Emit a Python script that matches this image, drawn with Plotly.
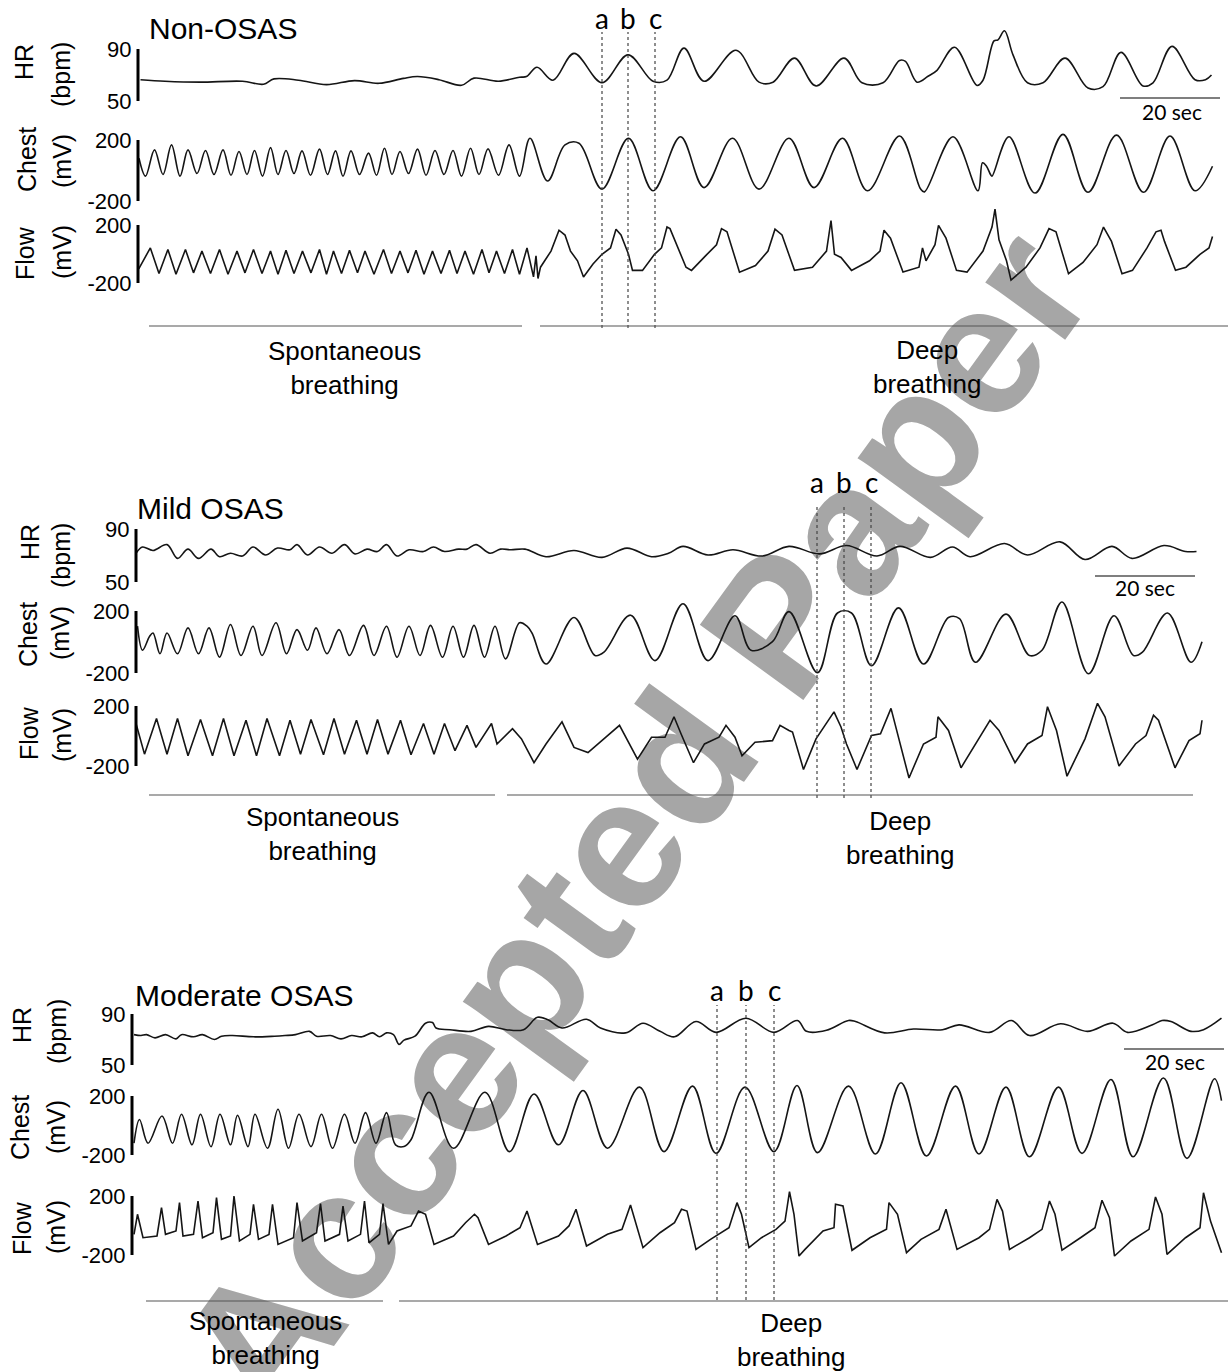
import plotly.graph_objects as go

# ---------------------------------------------------------------------------
# Recorded signals, (time [s], value).  HR in bpm, Chest / Flow in mV.
# ---------------------------------------------------------------------------
non_hr = [(0.5, 66.4), (5.4, 65.2), (12.4, 64.5), (20.9, 65.2), (25.1, 62.9), (27.2, 67.0),
          (32.1, 66.0), (37.7, 62.6), (43.3, 65.7), (48.2, 63.6), (53.1, 67.4), (55.9, 68.8),
          (60.2, 66.4), (64.7, 62.1), (67.2, 67.6), (72.1, 65.2), (76.3, 68.3), (77.7, 68.8),
          (79.8, 76.0), (83.0, 66.0), (87.2, 86.6), (92.8, 64.1), (98.0, 85.5), (103.0, 65.2),
          (105.8, 66.0), (109.2, 90.7), (113.2, 65.2), (119.6, 89.0), (124.2, 64.5), (127.0, 64.5),
          (131.3, 83.0), (135.6, 61.6), (141.2, 83.0), (144.8, 64.0), (149.0, 64.0), (152.3, 81.2),
          (153.5, 80.5), (155.8, 64.5), (158.0, 69.0), (159.8, 73.6), (163.3, 91.4), (167.8, 62.0),
          (169.0, 66.0), (171.2, 96.2), (172.0, 97.0), (173.3, 104.0), (175.0, 85.5), (177.9, 64.0),
          (181.0, 64.0), (185.4, 83.0), (190.0, 60.0), (193.0, 61.0), (196.6, 87.4), (201.0, 61.6),
          (203.0, 64.0), (206.8, 92.0), (211.4, 66.4), (213.5, 66.4), (214.7, 70.0)]

non_chest = [(0.2, 80), (1.5, -37), (3.3, 135), (5.0, -26), (6.7, 168), (8.4, -37), (10.0, 135),
             (11.8, -20), (13.5, 131), (15.2, -26), (17.0, 135), (18.6, -31), (20.2, 125), (21.8, -26),
             (23.3, 131), (24.9, -37), (26.5, 150), (28.0, -26), (29.6, 131), (31.2, -20), (32.8, 129),
             (34.5, -31), (36.3, 140), (37.9, -26), (39.5, 129), (41.0, -37), (42.6, 129), (44.3, -26),
             (46.1, 114), (47.7, -31), (49.3, 146), (50.8, -26), (52.4, 125), (54.1, -20), (55.9, 140),
             (57.6, -31), (59.4, 131), (61.2, -26), (63.0, 131), (64.7, -37), (66.5, 146), (68.2, -26),
             (70.0, 142), (72.1, -31), (74.2, 168), (76.3, -37), (78.4, 211), (81.9, -69), (85.4, 168),
             (88.2, 179), (92.8, -122), (98.1, 211), (103.0, -133), (108.5, 221), (113.2, -112),
             (118.9, 211), (124.2, -122), (130.2, 211), (135.2, -112), (140.9, 211), (145.9, -133),
             (152.3, 226), (156.5, -120), (157.3, -140), (163.0, 221), (168.0, -133), (168.9, 50),
             (169.7, 28), (170.5, -26), (170.8, -37), (174.2, 221), (179.4, -148), (185.0, 237),
             (190.0, -143), (195.7, 232), (201.1, -143), (206.4, 226), (211.4, -133), (214.9, 28)]

non_flow = [(0.15, -102), (2.47, 42), (4.2, -135), (5.98, 31), (7.6, -140), (9.49, 31), (11.1, -130),
            (12.79, 20), (14.5, -135), (16.3, 31), (18.0, -140), (19.8, 20), (21.4, -130), (23.1, 31),
            (24.8, -135), (26.5, 20), (28.0, -140), (29.6, 25), (31.2, -135), (32.9, 20), (34.6, -130),
            (36.3, 31), (37.7, -140), (39.1, 20), (40.7, -135), (42.3, 25), (43.9, -130), (45.4, 20),
            (47.2, -140), (49.1, 31), (50.7, -135), (52.4, 20), (54.0, -130), (55.6, 25), (57.2, -140),
            (58.9, 20), (60.6, -135), (62.3, 25), (63.8, -135), (65.4, 20), (67.1, -140), (68.8, 31),
            (70.2, -130), (71.7, 20), (73.3, -135), (74.9, 31), (76.3, -140), (77.8, 42),
            (79.1, -158), (79.6, -13), (80.0, -169), (80.5, -91), (82.6, 20), (84.2, 164), (85.4, 131),
            (86.5, 20), (87.9, -47), (89.1, -158), (91.0, -69), (92.8, -2), (94.5, 42), (95.6, 171),
            (96.6, 131), (98.1, -2), (98.9, -113), (100.9, -113), (103.3, -2), (104.7, 42), (105.8, 186),
            (106.4, 175), (109.6, -91), (110.7, -113), (113.5, -13), (115.7, 64), (116.7, 175),
            (117.8, 153), (120.3, -125), (123.5, -80), (126.0, 20), (127.4, 171), (128.8, 131),
            (131.3, -113), (134.9, -91), (137.7, 20), (138.6, 231), (139.3, -2), (140.6, -24),
            (142.7, -113), (146.3, -47), (148.4, 20), (149.2, 164), (150.5, 109), (153.0, -125),
            (156.2, -91), (156.9, 42), (157.6, -47), (159.4, 64), (160.1, 197), (161.6, 109),
            (163.7, -113), (165.8, -125), (169.0, 20), (170.8, 186), (171.4, 309), (172.2, 98),
            (173.7, -47), (174.6, -180), (177.6, -91), (180.4, 42), (182.2, 175), (183.6, 153),
            (186.1, -136), (189.0, -58), (191.8, 64), (193.1, 186), (194.7, 87), (196.8, -136),
            (198.9, -113), (201.8, 42), (203.6, 153), (204.6, 164), (205.3, 87), (207.5, -113),
            (209.6, -91), (212.4, -2), (214.2, 42), (214.9, 120)]

mild_hr = [(0.0, 71.7), (1.3, 76.4), (3.4, 73.8), (6.2, 78.2), (8.3, 67.8), (10.4, 74.8), (12.5, 67.8),
           (15.0, 74.8), (16.7, 69.1), (18.9, 71.7), (21.3, 69.6), (23.4, 76.4), (25.9, 70.4),
           (28.3, 75.6), (30.8, 74.3), (32.2, 78.2), (34.3, 70.4), (36.7, 76.4), (39.2, 71.7),
           (41.7, 78.2), (43.8, 71.2), (46.2, 74.8), (48.3, 73.0), (50.1, 78.2), (52.2, 69.6),
           (54.6, 74.3), (57.5, 73.0), (59.5, 76.4), (61.7, 73.0), (64.5, 74.8), (66.2, 74.8),
           (68.0, 78.2), (70.8, 71.7), (72.9, 74.8), (75.0, 74.3), (77.8, 74.8), (82.0, 69.1),
           (87.6, 73.8), (93.2, 68.6), (98.2, 75.6), (103.1, 69.1), (106.5, 71.7), (109.4, 76.9),
           (114.4, 70.4), (119.4, 74.3), (125.2, 69.6), (130.6, 76.9), (136.7, 71.2), (142.1, 77.5),
           (148.2, 69.6), (152.8, 76.9), (158.9, 68.6), (163.3, 76.4), (166.8, 69.1), (173.7, 79.0),
           (178.3, 70.4), (184.8, 80.3), (189.8, 67.0), (195.2, 76.9), (199.2, 67.8), (205.6, 77.5),
           (209.9, 73.0), (212.1, 73.0)]

mild_chest = [(0.3, 102), (1.3, -53), (2.7, 35), (3.4, 58), (4.8, -76), (6.2, 58), (8.3, -76),
              (10.4, 91), (12.5, -76), (14.6, 91), (16.7, -98), (18.9, 113), (21.0, -87), (23.4, 102),
              (25.2, -87), (28.0, 124), (30.1, -76), (32.2, 80), (34.3, -53), (36.0, 91), (38.2, -76),
              (40.6, 80), (42.7, -87), (45.5, 107), (47.6, -87), (50.1, 102), (52.2, -98), (54.6, 102),
              (56.8, -87), (58.9, 107), (61.3, -98), (63.4, 102), (65.5, -98), (67.6, 107), (69.7, -98),
              (71.8, 102), (73.9, -109), (76.7, 124), (78.2, 102), (79.2, 58), (82.0, -142),
              (87.6, 158), (91.8, -87), (93.6, -65), (98.9, 173), (103.8, -120), (109.4, 247),
              (114.4, -120), (119.8, 169), (123.0, -53), (127.3, 2), (130.6, 196), (136.3, -198),
              (140.3, 187), (143.1, 187), (147.1, -153), (152.5, 220), (157.5, -142), (162.5, 158),
              (164.7, 151), (167.9, -131), (174.0, 180), (178.7, -87), (181.2, -53), (185.2, 258),
              (190.5, -205), (195.6, 169), (199.5, -87), (201.3, -65), (206.3, 187), (211.0, -131),
              (213.2, 2)]

mild_flow = [(0.0, 83), (1.7, -121), (4.1, 117), (6.2, -121), (8.3, 117), (10.4, -132), (12.9, 110),
             (15.3, -132), (17.5, 117), (19.6, -132), (22.0, 105), (24.1, -132), (26.2, 117),
             (28.7, -132), (30.8, 105), (32.9, -121), (35.0, 110), (37.5, -125), (39.6, 117),
             (41.7, -121), (44.1, 105), (46.2, -121), (48.3, 110), (50.4, -121), (52.9, 105),
             (55.0, -125), (57.5, 83), (59.6, -121), (61.7, 83), (63.8, -98), (66.2, 71), (68.0, -76),
             (71.1, 83), (72.2, -53), (75.3, 49), (77.1, -19), (79.6, -178), (82.0, -53), (85.2, 94),
             (87.6, -76), (90.4, -110), (93.2, -31), (96.7, 71), (100.3, -155), (103.1, -8),
             (105.8, -8), (107.6, 128), (109.0, 15), (111.5, -178), (113.7, -53), (116.6, -8),
             (118.0, 71), (119.8, -8), (121.2, -132), (123.8, -42), (127.3, -31), (128.8, 71),
             (130.6, 37), (131.3, 26), (133.5, -223), (136.0, -19), (139.6, 161), (141.0, 60),
             (142.1, -53), (144.2, -223), (147.1, 3), (148.9, 15), (151.0, 184), (154.6, -280),
             (157.5, -53), (160.0, -8), (160.4, 128), (162.5, 37), (165.0, -212), (168.3, -31),
             (170.8, 105), (172.6, 37), (175.8, -178), (178.3, -53), (181.2, 3), (182.3, 195),
             (184.1, 37), (186.2, -268), (189.8, -19), (192.3, 218), (193.8, 128), (196.6, -200),
             (199.9, -53), (202.0, 3), (203.5, 139), (204.5, 105), (207.8, -212), (210.6, -31),
             (212.8, 15), (213.2, 105)]

mod_hr = [(0.4, 73.8), (1.8, 73.1), (2.9, 73.8), (4.6, 71.3), (6.7, 73.8), (8.8, 70.5), (9.9, 73.8),
          (12.3, 72.1), (14.1, 73.8), (16.5, 70.0), (17.9, 72.6), (20.1, 73.1), (24.3, 72.1),
          (28.5, 72.6), (30.6, 73.1), (32.7, 73.8), (35.5, 76.4), (36.9, 72.6), (39.7, 73.1),
          (41.8, 70.5), (43.9, 73.1), (46.0, 72.1), (48.1, 75.2), (49.5, 72.1), (50.9, 75.2),
          (52.3, 73.8), (53.4, 66.2), (54.4, 69.5), (56.6, 72.6), (58.7, 82.8), (60.1, 83.3),
          (60.8, 79.0), (63.6, 77.7), (67.8, 76.4), (71.3, 80.3), (74.8, 77.7), (78.3, 77.7),
          (81.1, 87.4), (83.2, 85.4), (86.0, 79.0), (90.9, 85.9), (93.7, 79.0), (98.7, 75.2),
          (102.2, 82.8), (105.6, 76.4), (108.5, 72.1), (112.8, 84.1), (116.8, 75.6), (122.8, 86.7),
          (128.4, 75.6), (133.1, 84.9), (134.9, 76.4), (138.9, 77.2), (143.3, 84.9), (144.7, 84.1),
          (150.5, 75.2), (156.3, 78.2), (162.1, 77.7), (165.4, 81.5), (171.5, 75.6), (175.9, 84.9),
          (179.5, 73.1), (185.7, 82.3), (191.1, 76.4), (196.2, 82.8), (199.1, 75.6), (204.1, 81.5),
          (206.0, 84.9), (207.8, 84.1), (211.8, 76.4), (214.3, 77.7), (217.9, 86.7)]

mod_chest = [(0.4, -120), (1.5, 41), (3.2, -120), (6.0, 64), (8.1, -120), (9.9, 76), (12.0, -131),
             (13.7, 76), (15.8, -143), (17.6, 76), (19.7, -131), (21.1, 69), (23.2, -143), (24.6, 76),
             (27.1, -154), (29.2, 110), (31.3, -154), (33.4, 76), (35.8, -143), (37.9, 76),
             (40.1, -154), (42.5, 76), (44.6, -120), (46.7, 87), (48.8, -120), (50.9, 87),
             (52.7, -131), (54.4, -143), (55.8, -97), (59.4, 225), (64.3, -154), (70.6, 225),
             (75.5, -177), (80.4, 214), (85.3, -131), (90.2, 237), (95.1, -154), (101.5, 260),
             (106.4, -177), (112.1, 267), (116.8, -189), (122.6, 260), (128.4, -177), (133.0, 271),
             (137.1, -184), (143.3, 267), (148.7, -193), (153.8, 290), (158.9, -207), (164.7, 267),
             (169.4, -193), (174.8, 260), (179.5, -212), (185.3, 260), (190.0, -189), (195.8, 312),
             (200.2, -212), (206.3, 322), (211.0, -223), (216.5, 317), (217.9, 168)]

mod_flow = [(0.4, -60), (1.1, 76), (2.2, -83), (5.0, -71), (5.9, 121), (6.7, -60), (8.8, -37),
            (9.5, 155), (10.2, -71), (12.3, -60), (13.2, 166), (14.1, -83), (16.2, -49), (16.9, 189),
            (17.9, -94), (19.7, -71), (20.4, 200), (21.5, -105), (23.6, -60), (24.3, 144),
            (25.3, -94), (27.4, -60), (28.1, 144), (29.2, -128), (32.3, -83), (33.0, 155),
            (34.1, -105), (36.9, -49), (37.7, 148), (38.6, -105), (41.5, -60), (42.2, 132),
            (43.2, -105), (45.7, -60), (46.5, 166), (47.4, -117), (49.5, -60), (50.2, 148),
            (51.3, -128), (53.0, -37), (55.8, -3), (57.3, 98), (58.7, 76), (60.4, -128), (64.3, -71),
            (66.7, 19), (68.5, 76), (69.2, 53), (71.3, -128), (74.8, -71), (77.6, -15), (79.0, 98),
            (81.1, -128), (85.3, -71), (87.4, -3), (88.8, 110), (90.9, -139), (95.1, -60),
            (98.0, -26), (99.7, 139), (102.2, -150), (105.6, -49), (108.5, 19), (109.9, 110),
            (111.0, 98), (112.8, -162), (115.7, -94), (119.4, -15), (121.0, 155), (121.9, 76),
            (123.4, -150), (125.9, -83), (128.8, -26), (130.6, 30), (131.5, 229), (132.4, 76),
            (133.4, -207), (134.6, -162), (138.2, -37), (140.4, -15), (140.7, 144), (142.2, 132),
            (144.0, -168), (147.6, -83), (150.9, -26), (151.4, 155), (153.1, 76), (154.9, -184),
            (157.8, -94), (161.4, -26), (162.8, 110), (165.0, -162), (169.4, -83), (171.5, -26),
            (173.0, 177), (174.1, 98), (175.5, -162), (179.5, -83), (182.0, -26), (183.5, 166),
            (184.6, 76), (186.0, -168), (189.7, -83), (192.6, -15), (194.0, 171), (195.5, 53),
            (196.5, -207), (199.8, -105), (203.4, -26), (204.7, 193), (206.0, 76), (207.0, -196),
            (210.7, -83), (213.6, -15), (214.3, 222), (215.7, 30), (217.9, -184)]

# Event markers (s) and breathing-phase spans (s) for each recording
non_marks = [92.8, 98.0, 103.4]
mild_marks = [136.2, 141.6, 147.0]
mod_marks = [117.0, 122.8, 128.4]
mark_names = ["a", "b", "c"]

non_phases = [(2.2, 76.8), (80.4, 218.0)]
mild_phases = [(2.6, 71.8), (74.2, 211.4)]
mod_phases = [(2.8, 50.2), (53.4, 219.2)]

SCALE_SEC = 20

# ---------------------------------------------------------------------------
# Page geometry
# ---------------------------------------------------------------------------
W, H = 1228, 1372
SEC_PX = 5.0          # pixels per second on every strip
PAD = 40              # room above / below each strip's labelled span
INK = "#151515"
SANS = "Liberation Sans, Arial, sans-serif"
HUMAN = "Lato, Open Sans, sans-serif"


def fx(px):
    return px / W


def fy(py):
    return 1 - py / H


def aid(i):
    """Plotly axis suffix: '' for the first axis, the number otherwise."""
    return "" if i == 1 else str(i)


PANELS = [
    dict(title="Non-OSAS", title_pos=(147, 28), left=138, marks=non_marks, mark_label_y=18,
         mark_span=(32, 328), phases=non_phases, phase_y=326,
         phase_labels=[("Spontaneous<br>breathing", 344, 368), ("Deep<br>breathing", 927, 367)],
         scale_end=216.4, scale_y=98, scale_label=(1172, 112)),
    dict(title="Mild OSAS", title_pos=(135, 508), left=136, marks=mild_marks, mark_label_y=482,
         mark_span=(505, 798), phases=mild_phases, phase_y=795,
         phase_labels=[("Spontaneous<br>breathing", 322, 834), ("Deep<br>breathing", 900, 838)],
         scale_end=211.8, scale_y=576, scale_label=(1145, 587)),
    dict(title="Moderate OSAS", title_pos=(133, 995), left=132, marks=mod_marks, mark_label_y=990,
         mark_span=(1005, 1300), phases=mod_phases, phase_y=1301,
         phase_labels=[("Spontaneous<br>breathing", 265, 1338), ("Deep<br>breathing", 791, 1340)],
         scale_end=218.4, scale_y=1049, scale_label=(1175, 1061)),
]

# panel, data, name, unit, (top value, px), (bottom value, px), line shape, name xy, unit xy
STRIPS = [
    (0, non_hr, "HR", "(bpm)", (90, 49), (50, 101), "spline", (24, 62), (61, 75)),
    (0, non_chest, "Chest", "(mV)", (200, 140), (-200, 201), "spline", (27, 160), (62, 161)),
    (0, non_flow, "Flow", "(mV)", (200, 225), (-200, 283), "linear", (25, 253), (62, 252)),
    (1, mild_hr, "HR", "(bpm)", (90, 529), (50, 582), "spline", (30, 542), (61, 556)),
    (1, mild_chest, "Chest", "(mV)", (200, 611), (-200, 673), "spline", (28, 635), (60, 633)),
    (1, mild_flow, "Flow", "(mV)", (200, 706), (-200, 766), "linear", (29, 733), (62, 735)),
    (2, mod_hr, "HR", "(bpm)", (90, 1014), (50, 1065), "spline", (22, 1025), (57, 1032)),
    (2, mod_chest, "Chest", "(mV)", (200, 1096), (-200, 1155), "spline", (20, 1128), (56, 1127)),
    (2, mod_flow, "Flow", "(mV)", (200, 1196), (-200, 1255), "linear", (22, 1228), (56, 1227)),
]

fig = go.Figure()
shapes, annotations, axes = [], [], {}
first_axis_of_panel = {}

for i, (pi, data, name, unit, (v_hi, p_hi), (v_lo, p_lo), shape, name_xy, unit_xy) in \
        enumerate(STRIPS, start=1):
    panel = PANELS[pi]
    first_axis_of_panel.setdefault(pi, i)
    left = panel["left"]
    px_per_unit = (p_lo - p_hi) / (v_hi - v_lo)
    s = aid(i)

    axes[f"xaxis{s}"] = dict(domain=[fx(left), 1], range=[0, (W - left) / SEC_PX],
                             visible=False, anchor=f"y{s}", fixedrange=True)
    axes[f"yaxis{s}"] = dict(
        domain=[max(0, fy(p_lo + PAD)), min(1, fy(p_hi - PAD))],
        range=[v_lo - PAD / px_per_unit, v_hi + PAD / px_per_unit],
        anchor=f"x{s}", showgrid=False, zeroline=False, showline=False,
        tickvals=[v_lo, v_hi], ticktext=[str(v_lo), str(v_hi)],
        ticks="outside", ticklen=1, tickcolor="rgba(0,0,0,0)",
        tickfont=dict(family=SANS, size=22, color="#000"), fixedrange=True)

    t, v = zip(*data)
    fig.add_trace(go.Scatter(x=list(t), y=list(v), mode="lines", xaxis=f"x{s}", yaxis=f"y{s}",
                             line=dict(color=INK, width=1.6, shape=shape),
                             hoverinfo="skip", showlegend=False))

    # calibration bar spanning the labelled range
    shapes.append(dict(type="line", xref=f"x{s} domain", yref=f"y{s}", x0=0, x1=0,
                       y0=v_lo, y1=v_hi, line=dict(color="#000", width=3)))

    for text, (ax_, ay_) in ((name, name_xy), (unit, unit_xy)):
        annotations.append(dict(text=text, x=fx(ax_), y=fy(ay_), xref="paper", yref="paper",
                                textangle=-90, showarrow=False, xanchor="center", yanchor="middle",
                                font=dict(family=SANS, size=25, color="#000")))

for pi, panel in enumerate(PANELS):
    xr = f"x{aid(first_axis_of_panel[pi])}"
    tx, ty = panel["title_pos"]
    annotations.append(dict(text=panel["title"], x=fx(tx), y=fy(ty), xref="paper", yref="paper",
                            showarrow=False, xanchor="left", yanchor="middle",
                            font=dict(family=SANS, size=30, color="#000")))

    y_top, y_bot = panel["mark_span"]
    for t_mark, label in zip(panel["marks"], mark_names):
        shapes.append(dict(type="line", xref=xr, yref="paper", x0=t_mark, x1=t_mark,
                           y0=fy(y_bot), y1=fy(y_top),
                           line=dict(color="#444", width=1.2, dash="dot")))
        annotations.append(dict(text=label, x=t_mark, y=fy(panel["mark_label_y"]), xref=xr,
                                yref="paper", showarrow=False, xanchor="center", yanchor="middle",
                                font=dict(family=HUMAN, size=28, color="#000")))

    for t0, t1 in panel["phases"]:
        shapes.append(dict(type="line", xref=xr, yref="paper", x0=t0, x1=t1,
                           y0=fy(panel["phase_y"]), y1=fy(panel["phase_y"]),
                           line=dict(color="#555", width=1.2)))
    for text, lx, ly in panel["phase_labels"]:
        annotations.append(dict(text=text, x=fx(lx), y=fy(ly), xref="paper", yref="paper",
                                showarrow=False, xanchor="center", yanchor="middle",
                                font=dict(family=SANS, size=26, color="#000")))

    # 20-second time scale
    shapes.append(dict(type="line", xref=xr, yref="paper",
                       x0=panel["scale_end"] - SCALE_SEC, x1=panel["scale_end"],
                       y0=fy(panel["scale_y"]), y1=fy(panel["scale_y"]),
                       line=dict(color="#555", width=1.3)))
    sx, sy = panel["scale_label"]
    annotations.append(dict(text=f"{SCALE_SEC} sec", x=fx(sx), y=fy(sy), xref="paper", yref="paper",
                            showarrow=False, xanchor="center", yanchor="middle",
                            font=dict(family=HUMAN, size=21, color="#000")))

# diagonal watermark behind the traces
wm_x, wm_y = 620, 812
shapes.append(dict(type="rect", xref="paper", yref="paper",
                   x0=fx(wm_x - 2), x1=fx(wm_x + 2), y0=fy(wm_y + 2), y1=fy(wm_y - 2),
                   line=dict(width=0), fillcolor="rgba(0,0,0,0)", layer="below",
                   label=dict(text="Accepted Paper", textangle=-54, textposition="middle center",
                              font=dict(family=SANS, size=186, color="#a6a6a6", weight="bold"))))

fig.update_layout(width=W, height=H, margin=dict(l=0, r=0, t=0, b=0),
                  paper_bgcolor="white", plot_bgcolor="rgba(0,0,0,0)", showlegend=False,
                  shapes=shapes, annotations=annotations, **axes)

fig.write_html("out.html")
